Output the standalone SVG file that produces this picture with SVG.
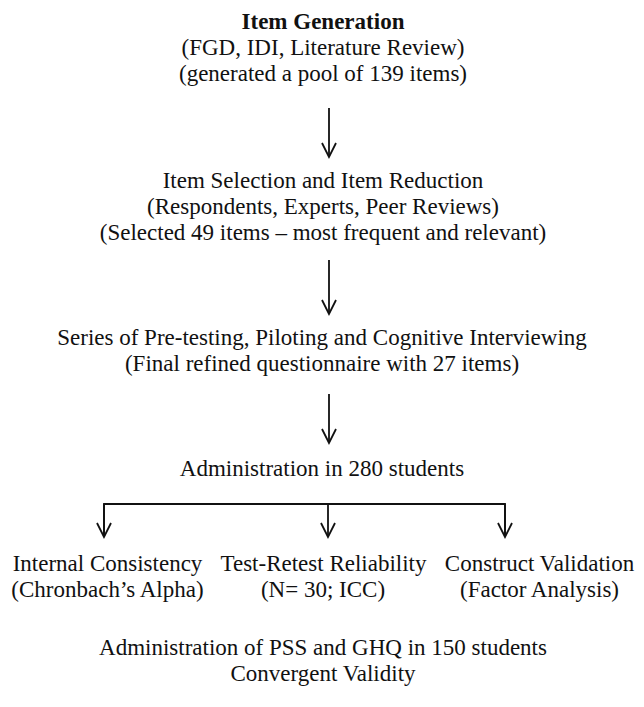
<svg xmlns="http://www.w3.org/2000/svg" width="644" height="707" viewBox="0 0 644 707">
<defs>
<style>
text{font-family:"Liberation Serif","Times New Roman",serif;font-size:23px;fill:#111;text-anchor:middle}
.b{font-weight:bold}
.c{fill:none;stroke:#111;stroke-width:1.8}
</style>
<marker id="ah" markerUnits="userSpaceOnUse" markerWidth="20" markerHeight="20" viewBox="-16 -10 20 20" refX="0" refY="0" orient="auto">
<path d="M-14,-7 L0,0 L-14,7" fill="none" stroke="#111" stroke-width="1.8"/>
</marker>
</defs>
<rect width="644" height="707" fill="#fff"/>
<g id="n1">
<text class="b" x="323" y="29">Item Generation</text>
<text x="323" y="55">(FGD, IDI, Literature Review)</text>
<text x="323" y="81">(generated a pool of 139 items)</text>
</g>
<g id="n2">
<text x="323" y="188">Item Selection and Item Reduction</text>
<text x="323" y="214">(Respondents, Experts, Peer Reviews)</text>
<text x="323" y="240">(Selected 49 items – most frequent and relevant)</text>
</g>
<g id="n3">
<text x="322" y="345">Series of Pre-testing, Piloting and Cognitive Interviewing</text>
<text x="322" y="371">(Final refined questionnaire with 27 items)</text>
</g>
<g id="n4">
<text x="322" y="476">Administration in 280 students</text>
</g>
<g id="n5">
<text x="107.5" y="571">Internal Consistency</text>
<text x="107.5" y="597">(Chronbach’s Alpha)</text>
</g>
<g id="n6">
<text x="323.5" y="571">Test-Retest Reliability</text>
<text x="323" y="597">(N= 30; ICC)</text>
</g>
<g id="n7">
<text x="539.5" y="571">Construct Validation</text>
<text x="539.5" y="597">(Factor Analysis)</text>
</g>
<g id="n8">
<text x="323" y="655">Administration of PSS and GHQ in 150 students</text>
<text x="323" y="681">Convergent Validity</text>
</g>
<g id="connectors">
<path class="c" d="M329,108 V157" marker-end="url(#ah)"/>
<path class="c" d="M329,260 V314" marker-end="url(#ah)"/>
<path class="c" d="M329,394 V443" marker-end="url(#ah)"/>
<path class="c" d="M104,537 V504 H505 V537"/>
<path class="c" d="M104,504 V537" marker-end="url(#ah)"/>
<path class="c" d="M328,504 V537" marker-end="url(#ah)"/>
<path class="c" d="M505,504 V537" marker-end="url(#ah)"/>
</g>
</svg>
